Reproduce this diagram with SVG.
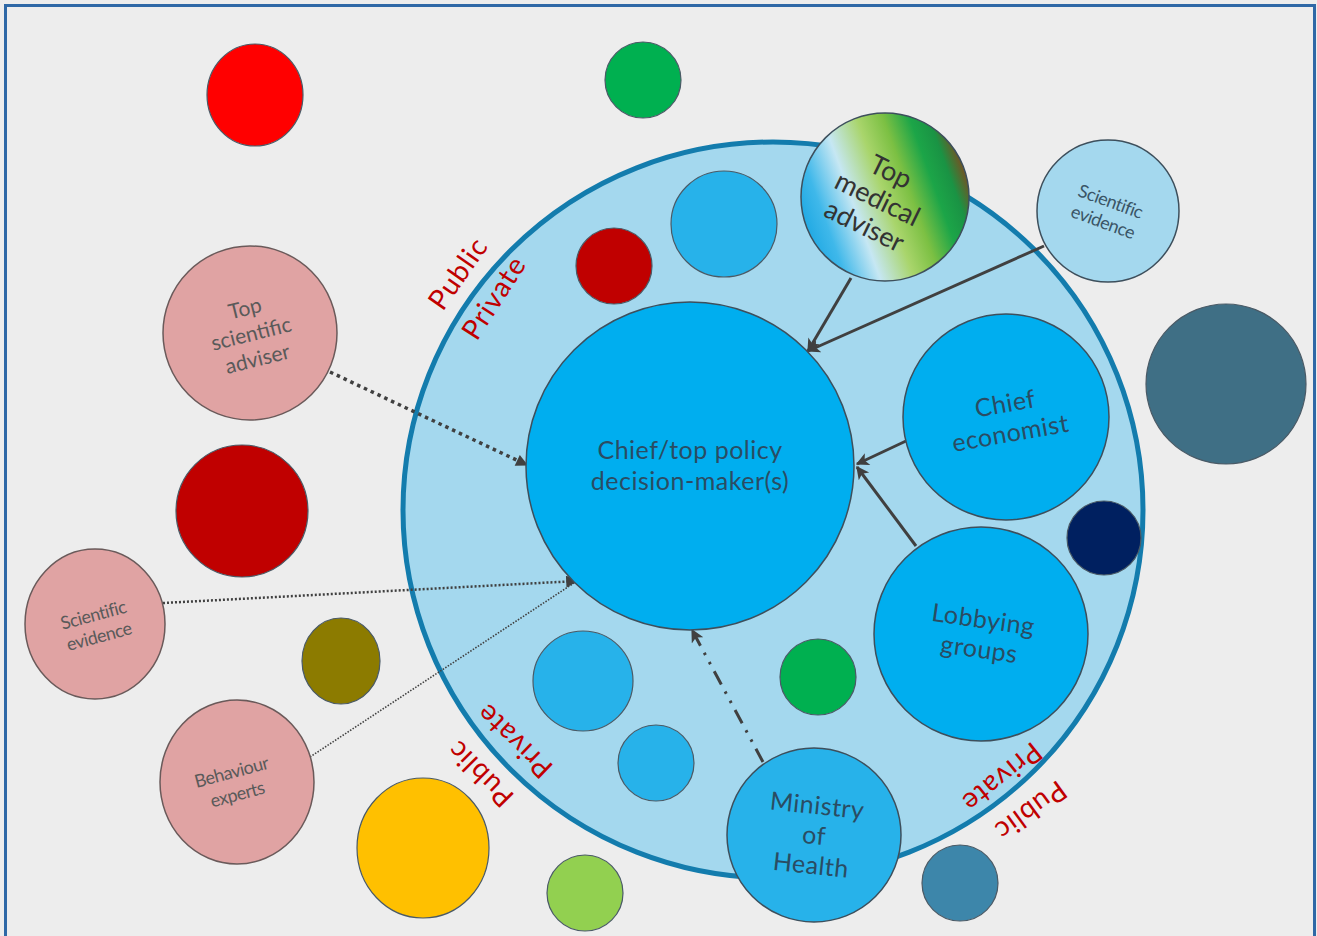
<svg xmlns="http://www.w3.org/2000/svg" width="1317" height="936" viewBox="0 0 1317 936">
  <defs>
    <linearGradient id="medGrad" x1="0" y1="0.68" x2="1" y2="0.32">
      <stop offset="0" stop-color="#1aa6e2"/>
      <stop offset="0.14" stop-color="#3fb8ea"/>
      <stop offset="0.32" stop-color="#c6e7f3"/>
      <stop offset="0.5" stop-color="#a9d56c"/>
      <stop offset="0.64" stop-color="#7cc043"/>
      <stop offset="0.78" stop-color="#1ca548"/>
      <stop offset="0.88" stop-color="#1a9344"/>
      <stop offset="1" stop-color="#8e3f1a"/>
    </linearGradient>
    <marker id="arrow" viewBox="0 0 10 10" refX="9" refY="5" markerUnits="userSpaceOnUse" markerWidth="15" markerHeight="13" orient="auto">
      <path d="M0,0 L10,5 L0,10 L2.5,5 z" fill="#404040"/>
    </marker>
    <marker id="arrowSmall" viewBox="0 0 10 10" refX="9" refY="5" markerUnits="userSpaceOnUse" markerWidth="13" markerHeight="12" orient="auto">
      <path d="M0,0 L10,5 L0,10 z" fill="#404040"/>
    </marker>
  </defs>
  <style>
    text { font-family: Lato, "Open Sans", "Liberation Sans", sans-serif; text-anchor: middle; }
    .node { stroke: #3d4f5c; stroke-width: 1.5; }
    .blob { stroke: #4a5a66; stroke-width: 1.2; }
    .core { fill: #00aeef; }
    .mid { fill: #27b2ea; }
    .pale { fill: #a4d8ee; }
    .pink { fill: #e0a3a3; stroke: #6a5a5a; stroke-width: 1.5; }
    .lbl { fill: #2a4c63; font-size: 25px; letter-spacing: 0.5px; }
    .lblPink { fill: #5a5a5a; font-size: 21px; }
    .lblSmall { fill: #3a5566; font-size: 18px; letter-spacing: -0.5px; }
    .lblGrey { fill: #5a5a5a; }
    .zone { fill: #c00000; font-size: 28px; letter-spacing: 1px; }
    .link { stroke: #404040; fill: none; }
  </style>

  <!-- page -->
  <rect x="0" y="0" width="1317" height="936" fill="#ededed"/>
  <rect x="5.5" y="5.5" width="1309" height="940" fill="none" stroke="#2f68a6" stroke-width="3"/>

  <!-- outer ring: the decision-making space -->
  <g id="ring">
    <ellipse cx="773" cy="510" rx="370" ry="368" fill="#a4d8ee" stroke="#137cad" stroke-width="5"/>
  </g>

  <!-- loose circles outside the ring -->
  <g id="outer-blobs">
    <ellipse class="blob" cx="255" cy="95" rx="48" ry="51" fill="#ff0000"/>
    <circle class="blob" cx="643" cy="80" r="38" fill="#00b050"/>
    <circle class="blob" cx="242" cy="511" r="66" fill="#c00000"/>
    <ellipse class="blob" cx="341" cy="661" rx="39" ry="43" fill="#8c7b00"/>
    <ellipse class="blob" cx="423" cy="848" rx="66" ry="70" fill="#ffc000"/>
    <circle class="blob" cx="585" cy="893" r="38" fill="#92d050"/>
    <circle class="blob" cx="960" cy="883" r="38" fill="#3d86aa"/>
    <circle class="blob" cx="1226" cy="384" r="80" fill="#3f6f85"/>
  </g>

  <!-- loose circles inside the ring -->
  <g id="inner-blobs">
    <circle class="blob mid" cx="724" cy="224" r="53"/>
    <circle class="blob" cx="614" cy="266" r="38" fill="#c00000"/>
    <circle class="blob mid" cx="583" cy="681" r="50"/>
    <circle class="blob mid" cx="656" cy="763" r="38"/>
    <circle class="blob" cx="818" cy="677" r="38" fill="#00b050"/>
    <circle class="blob" cx="1104" cy="538" r="37" fill="#002060"/>
  </g>

  <!-- public / private boundary labels -->
  <g id="zone-labels">
    <text class="zone" transform="translate(466,279) rotate(-55)">Public</text>
    <text class="zone" transform="translate(502,303) rotate(-57)">Private</text>
    <text class="zone" transform="translate(487,767) rotate(-135)">Public</text>
    <text class="zone" transform="translate(521,734) rotate(-136)">Private</text>
    <text class="zone" transform="translate(996,770) rotate(141)">Private</text>
    <text class="zone" transform="translate(1025,803) rotate(144)">Public</text>
  </g>

  <!-- connectors -->
  <g id="connectors">
    <line class="link" x1="330" y1="372" x2="527" y2="465" stroke-width="3.5" stroke-dasharray="3.5 4" marker-end="url(#arrowSmall)"/>
    <line class="link" x1="163" y1="603" x2="577" y2="581" stroke-width="2.5" stroke-dasharray="2 2" marker-end="url(#arrowSmall)"/>
    <line class="link" x1="310" y1="757" x2="577" y2="581" stroke-width="1.6" stroke-dasharray="1.5 1.5"/>
    <line class="link" x1="851" y1="278" x2="808" y2="351" stroke-width="3" marker-end="url(#arrow)"/>
    <line class="link" x1="1044" y1="246" x2="808" y2="351" stroke-width="3" marker-end="url(#arrow)"/>
    <line class="link" x1="906" y1="441" x2="857" y2="464" stroke-width="3" marker-end="url(#arrow)"/>
    <line class="link" x1="916" y1="546" x2="857" y2="467" stroke-width="3" marker-end="url(#arrow)"/>
    <line class="link" x1="763" y1="762" x2="692" y2="630" stroke-width="3" stroke-dasharray="15 8 2.5 8 2.5 8" marker-end="url(#arrow)"/>
  </g>

  <!-- nodes -->
  <g id="decision-maker">
    <circle class="node core" cx="690" cy="466" r="164"/>
    <text class="lbl" x="690" y="459">Chief/top policy</text>
    <text class="lbl" x="690" y="490">decision-maker(s)</text>
  </g>

  <g id="top-medical-adviser">
    <circle class="node" cx="885" cy="197" r="84" fill="url(#medGrad)"/>
    <g transform="translate(877,200) rotate(26)">
      <text x="0" y="-22" fill="#333" font-size="27">Top</text>
      <text x="0" y="8" fill="#333" font-size="27">medical</text>
      <text x="0" y="38" fill="#333" font-size="27">adviser</text>
    </g>
  </g>

  <g id="scientific-evidence-top">
    <circle class="node pale" cx="1108" cy="211" r="71"/>
    <g transform="translate(1107,211) rotate(20)">
      <text class="lblSmall" x="0" y="-4">Scientific</text>
      <text class="lblSmall" x="0" y="18">evidence</text>
    </g>
  </g>

  <g id="chief-economist">
    <circle class="node core" cx="1006" cy="417" r="103"/>
    <g transform="translate(1008,420) rotate(-10)">
      <text class="lbl" x="0" y="-8">Chief</text>
      <text class="lbl" x="0" y="22">economist</text>
    </g>
  </g>

  <g id="lobbying-groups">
    <circle class="node core" cx="981" cy="634" r="107"/>
    <g transform="translate(981,636) rotate(8)">
      <text class="lbl" x="0" y="-8">Lobbying</text>
      <text class="lbl" x="0" y="22">groups</text>
    </g>
  </g>

  <g id="ministry-of-health">
    <circle class="node mid" cx="814" cy="835" r="87"/>
    <g transform="translate(814,836) rotate(6)">
      <text class="lbl" x="0" y="-22">Ministry</text>
      <text class="lbl" x="0" y="8">of</text>
      <text class="lbl" x="0" y="38">Health</text>
    </g>
  </g>

  <g id="top-scientific-adviser">
    <circle class="pink" cx="250" cy="333" r="87" fill="#d99594"/>
    <g transform="translate(251,333) rotate(-14)">
      <text class="lblPink" x="0" y="-18">Top</text>
      <text class="lblPink" x="0" y="8">scientific</text>
      <text class="lblPink" x="0" y="34">adviser</text>
    </g>
  </g>

  <g id="scientific-evidence-left">
    <ellipse class="pink" cx="95" cy="624" rx="70" ry="75"/>
    <g transform="translate(96,625) rotate(-15)">
      <text class="lblSmall lblGrey" x="0" y="-4">Scientific</text>
      <text class="lblSmall lblGrey" x="0" y="18">evidence</text>
    </g>
  </g>

  <g id="behaviour-experts">
    <ellipse class="pink" cx="237" cy="782" rx="77" ry="82"/>
    <g transform="translate(234,782) rotate(-15)">
      <text class="lblSmall lblGrey" x="0" y="-4">Behaviour</text>
      <text class="lblSmall lblGrey" x="0" y="19">experts</text>
    </g>
  </g>
</svg>
